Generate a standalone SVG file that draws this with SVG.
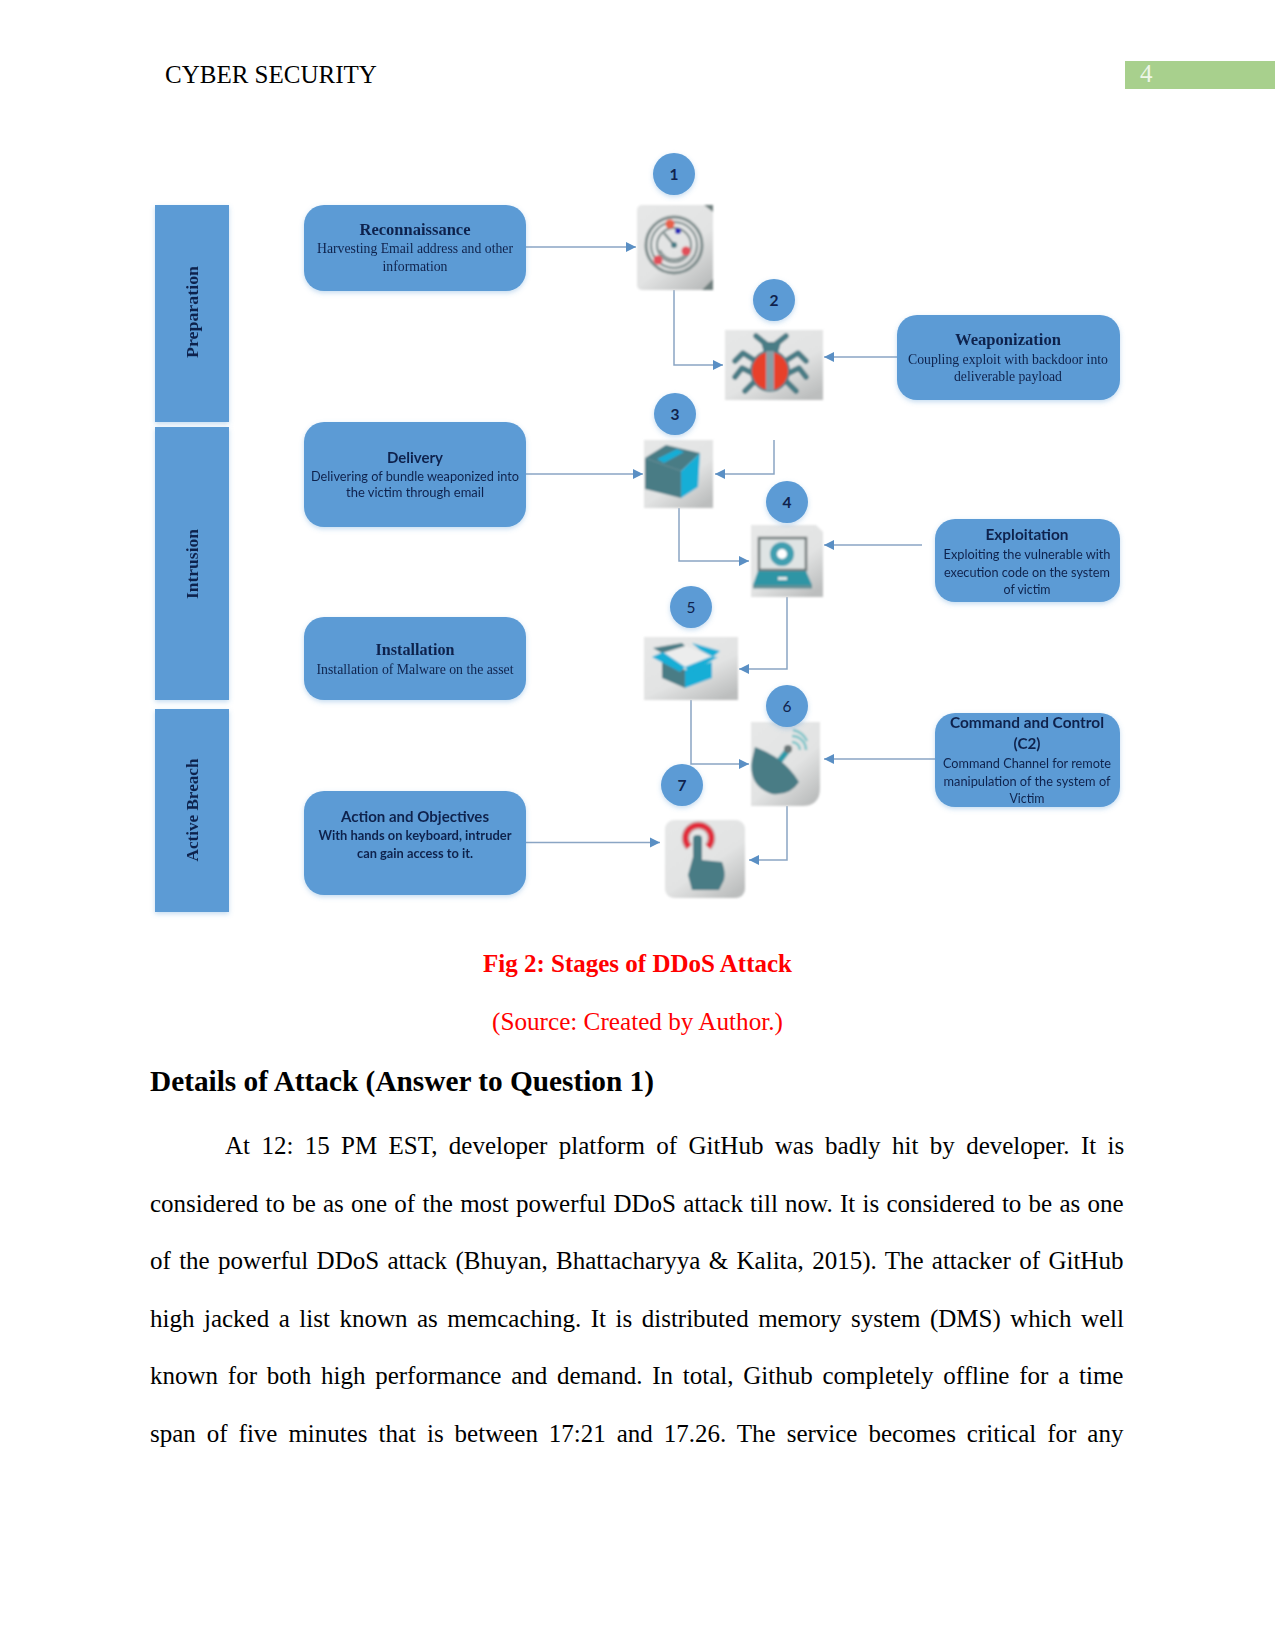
<svg xmlns="http://www.w3.org/2000/svg" width="1275" height="1651" viewBox="0 0 1275 1651">
<style>
.page{font-family:"Liberation Serif","Times New Roman",serif;font-size:25px;fill:#000}
.cap{text-anchor:middle;fill:#f00}
.b{font-weight:700}
.t{font-family:"Liberation Serif",serif;fill:#10234d;text-anchor:middle}
.tb{font-size:16.5px;font-weight:700}
.ts{font-size:13.7px}
.c{font-family:Lato,"Open Sans",sans-serif;fill:#10234d;text-anchor:middle}
.cb{font-size:15.5px;font-weight:700}
.cs{font-size:12.5px}
.band{fill:#5b9bd5}
.box{fill:#5b9bd5}
.n{fill:#5b9bd5}
.num{font-family:Lato,"Open Sans",sans-serif;font-size:15.5px;fill:#10234d;text-anchor:middle}
.lab{font-family:"Liberation Serif",serif;font-weight:700;font-size:17.5px;fill:#10234d;text-anchor:middle}
.ln{fill:none;stroke:#8aa5c4;stroke-width:1.5;marker-end:url(#ah)}
.teal{fill:#4a7b85}
.cy{fill:#17aed6}
</style>
<defs>
<marker id="ah" markerUnits="userSpaceOnUse" markerWidth="11" markerHeight="12" refX="10" refY="6" orient="auto"><path d="M0 1L10 6L0 11Z" fill="#5a8fc4"/></marker>
<linearGradient id="ig" x1="0.1" y1="0" x2="0.8" y2="1"><stop offset="0" stop-color="#e6e7e7"/><stop offset="0.6" stop-color="#e2e3e3"/><stop offset="1" stop-color="#bcbebe"/></linearGradient>
<filter id="sh" x="-10%" y="-10%" width="120%" height="125%"><feDropShadow dx="0" dy="2" stdDeviation="2.5" flood-color="#5b9bd5" flood-opacity="0.35"/></filter>
<filter id="soft" x="-5%" y="-5%" width="110%" height="110%"><feGaussianBlur stdDeviation="0.8"/></filter>
<filter id="txt" x="-5%" y="-20%" width="110%" height="140%"><feGaussianBlur stdDeviation="0.35"/></filter>
</defs>

<g id="header">
<text class="page" x="165" y="83">CYBER SECURITY</text>
<rect x="1125" y="61" width="150" height="28" fill="#a8d08d"/>
<text x="1140" y="82" font-family="Liberation Serif,serif" font-size="25" fill="#eef6e8">4</text>
</g>

<g id="connectors">
<path class="ln" d="M526 247H636"/>
<path class="ln" d="M674 290V365H723"/>
<path class="ln" d="M897 357H824"/>
<path class="ln" d="M774 440V474H715"/>
<path class="ln" d="M526 474H643"/>
<path class="ln" d="M679 508V561H749"/>
<path class="ln" d="M922 545H824"/>
<path class="ln" d="M787 597V669H739"/>
<path class="ln" d="M691 700V764H749"/>
<path class="ln" d="M935 759H824"/>
<path class="ln" d="M787 806V860H749"/>
<path class="ln" d="M526 842.500H660"/>
</g>

<g id="band-preparation"><rect class="band" x="155" y="205" width="74" height="217" filter="url(#sh)"/><text class="lab" transform="translate(198 312) rotate(-90)" textLength="92" lengthAdjust="spacingAndGlyphs" filter="url(#txt)">Preparation</text></g>
<g id="band-intrusion"><rect class="band" x="155" y="427" width="74" height="273" filter="url(#sh)"/><text class="lab" transform="translate(198 564) rotate(-90)" textLength="70" lengthAdjust="spacingAndGlyphs" filter="url(#txt)">Intrusion</text></g>
<g id="band-active-breach"><rect class="band" x="155" y="709" width="74" height="203" filter="url(#sh)"/><text class="lab" transform="translate(198 810) rotate(-90)" textLength="103" lengthAdjust="spacingAndGlyphs" filter="url(#txt)">Active Breach</text></g>

<g id="node-reconnaissance"><rect class="box" x="304" y="205" width="222" height="86" rx="20" filter="url(#sh)"/>
<g filter="url(#txt)"><text class="t tb" x="415" y="235" textLength="111" lengthAdjust="spacingAndGlyphs">Reconnaissance</text>
<text class="t ts" x="415" y="253" textLength="196" lengthAdjust="spacingAndGlyphs">Harvesting Email address and other</text>
<text class="t ts" x="415" y="271" textLength="65" lengthAdjust="spacingAndGlyphs">information</text></g></g>

<g id="node-delivery"><rect class="box" x="304" y="422" width="222" height="105" rx="20" filter="url(#sh)"/>
<g filter="url(#txt)"><text class="c cb" x="415" y="463" textLength="56" lengthAdjust="spacingAndGlyphs">Delivery</text>
<text class="c cs" x="415" y="481" textLength="208" lengthAdjust="spacingAndGlyphs">Delivering of bundle weaponized into</text>
<text class="c cs" x="415" y="497" textLength="138" lengthAdjust="spacingAndGlyphs">the victim through email</text></g></g>

<g id="node-installation"><rect class="box" x="304" y="617" width="222" height="83" rx="20" filter="url(#sh)"/>
<g filter="url(#txt)"><text class="t tb" x="415" y="655" textLength="79" lengthAdjust="spacingAndGlyphs">Installation</text>
<text class="t ts" x="415" y="674" textLength="197" lengthAdjust="spacingAndGlyphs">Installation of Malware on the asset</text></g></g>

<g id="node-action"><rect class="box" x="304" y="791" width="222" height="104" rx="20" filter="url(#sh)"/>
<g filter="url(#txt)"><text class="c cb" x="415" y="822" textLength="148" lengthAdjust="spacingAndGlyphs">Action and Objectives</text>
<text class="c cs b" x="415" y="840" textLength="193" lengthAdjust="spacingAndGlyphs">With hands on keyboard, intruder</text>
<text class="c cs b" x="415" y="858" textLength="116" lengthAdjust="spacingAndGlyphs">can gain access to it.</text></g></g>

<g id="node-weaponization"><rect class="box" x="897" y="315" width="223" height="85" rx="20" filter="url(#sh)"/>
<g filter="url(#txt)"><text class="t tb" x="1008" y="345" textLength="106" lengthAdjust="spacingAndGlyphs">Weaponization</text>
<text class="t ts" x="1008" y="364" textLength="200" lengthAdjust="spacingAndGlyphs">Coupling exploit with backdoor into</text>
<text class="t ts" x="1008" y="381" textLength="108" lengthAdjust="spacingAndGlyphs">deliverable payload</text></g></g>

<g id="node-exploitation"><rect class="box" x="935" y="519" width="185" height="83" rx="20" filter="url(#sh)"/>
<g filter="url(#txt)"><text class="c cb" x="1027" y="540" textLength="83" lengthAdjust="spacingAndGlyphs">Exploitation</text>
<text class="c cs" x="1027" y="559" textLength="167" lengthAdjust="spacingAndGlyphs">Exploiting the vulnerable with</text>
<text class="c cs" x="1027" y="577" textLength="166" lengthAdjust="spacingAndGlyphs">execution code on the system</text>
<text class="c cs" x="1027" y="594" textLength="47" lengthAdjust="spacingAndGlyphs">of victim</text></g></g>

<g id="node-c2"><rect class="box" x="935" y="713" width="185" height="94" rx="20" filter="url(#sh)"/>
<g filter="url(#txt)"><text class="c cb" x="1027" y="728" textLength="154" lengthAdjust="spacingAndGlyphs">Command and Control</text>
<text class="c cb" x="1027" y="749" textLength="27" lengthAdjust="spacingAndGlyphs">(C2)</text>
<text class="c cs" x="1027" y="768" textLength="168" lengthAdjust="spacingAndGlyphs">Command Channel for remote</text>
<text class="c cs" x="1027" y="786" textLength="167" lengthAdjust="spacingAndGlyphs">manipulation of the system of</text>
<text class="c cs" x="1027" y="803" textLength="35" lengthAdjust="spacingAndGlyphs">Victim</text></g></g>

<g id="icon-radar" filter="url(#soft)"><rect x="637" y="205" width="76" height="85" rx="5" fill="url(#ig)"/>
<path d="M704 205H713V212ZM713 279V290H702Z" fill="#6f7f7e"/>
<g fill="none" stroke="#7d8c8c"><circle cx="674" cy="245" r="28" stroke-width="3"/><circle cx="674" cy="245" r="23" stroke-width="2"/><circle cx="674" cy="245" r="17" stroke-width="2"/><path d="M660 250A15 15 0 0 0 688 250" stroke-width="2"/></g>
<path d="M674 245L664 233" stroke="#7d8c8c" stroke-width="2.500"/><circle cx="674" cy="245" r="3" class="teal"/>
<circle cx="670" cy="224" r="4.500" fill="#e8604a"/><circle cx="678" cy="231" r="3" fill="#2a2ab8"/><circle cx="686" cy="251" r="4.500" fill="#e2505a"/><circle cx="658" cy="260" r="4.500" fill="#e2505a"/></g>

<g id="icon-bug" filter="url(#soft)"><rect x="725" y="330" width="98" height="70" fill="url(#ig)"/>
<g fill="none" stroke="#4a7b85" stroke-width="5.500" stroke-linecap="round" stroke-linejoin="round"><path d="M756 336L766 344M786 336L776 344"/><path d="M754 360L743 353L735 361"/><path d="M752 373L742 368L735 377"/><path d="M754 382L745 391"/><path d="M787 360L798 353L806 361"/><path d="M789 373L799 368L806 377"/><path d="M787 382L796 391"/></g>
<path class="teal" d="M761 342H781L778 353H764Z"/>
<ellipse cx="770" cy="371" rx="19" ry="20" fill="#e8402a" stroke="#4a7b85" stroke-width="2"/><rect x="766" y="351" width="8" height="40" fill="#8a9ea5"/></g>

<g id="icon-box" filter="url(#soft)"><rect x="644" y="440" width="69" height="68" fill="url(#ig)"/>
<path class="teal" d="M645 458L681 471V498L645 489Z"/><path class="cy" d="M681 471L700 453L698 487L681 498Z"/><path class="teal" d="M645 458L666 445L700 453L681 471Z"/><path class="cy" d="M657 459L677 449L684 452L664 463Z"/></g>

<g id="icon-laptop" filter="url(#soft)"><path d="M751 525H816L823 532V597H751Z" fill="url(#ig)"/>
<rect x="759" y="538" width="47" height="32" fill="#dfe4e4" stroke="#70797a" stroke-width="2.500"/>
<circle cx="782" cy="554" r="8.500" fill="#fff" stroke="#3f9fb0" stroke-width="7"/>
<path d="M758 571H806L812 585H753Z" fill="#2f95a5"/><rect x="753" y="585" width="59" height="3.500" fill="#5f8f96"/><rect x="778" y="577" width="9" height="3" fill="#dfe9e9"/></g>

<g id="icon-openbox" filter="url(#soft)"><rect x="644" y="637" width="94" height="63" fill="url(#ig)"/>
<path d="M663 655L686 646L712 657L686 668Z" fill="#eceded"/>
<path class="teal" d="M662 660L685 670V688L662 678Z"/><path class="cy" d="M685 670L712 662V678L685 688Z"/>
<path class="teal" d="M653 648L682 643L685 646L662 653Z"/>
<path class="cy" d="M692 643L720 651L713 657L700 650Z"/>
<path class="cy" d="M652 657L663 652L685 667L680 672Z"/>
<path class="cy" d="M685 667L710 657L718 657L690 673Z"/></g>

<g id="icon-dish" filter="url(#soft)"><path d="M751 722H820V788Q820 806 802 806H751Z" fill="url(#ig)"/>
<path d="M777 764L788 750" stroke="#2c9aa8" stroke-width="6"/><circle cx="788" cy="749" r="4" fill="#6b7778"/>
<path class="teal" d="M755 747Q785 758 799 782Q790 796 772 794Q748 786 752 760Z"/>
<g fill="none" stroke="#7cc4c8" stroke-width="2.500"><path d="M792 742A8 8 0 0 1 800 750"/><path d="M792 736A14 14 0 0 1 806 750"/><path d="M793 730A20 20 0 0 1 807 741"/></g></g>

<g id="icon-hand" filter="url(#soft)"><rect x="665" y="820" width="80" height="78" rx="9" fill="url(#ig)"/>
<path d="M689 847A13 13 0 1 1 708 847" fill="none" stroke="#c8a0a4" stroke-width="8"/>
<path d="M689 847A13 13 0 1 1 708 847" fill="none" stroke="#e22c3a" stroke-width="5"/>
<rect x="693" y="835" width="9" height="30" rx="4" class="teal"/>
<path class="teal" d="M693 857L702 860L722 862Q726 872 724 880L719 890H692L688 875Z"/></g>

<g id="step-1"><circle class="n" cx="674" cy="174" r="21" filter="url(#sh)"/><text class="num b" x="674" y="180">1</text></g>
<g id="step-2"><circle class="n" cx="774" cy="300" r="21" filter="url(#sh)"/><text class="num b" x="774" y="306">2</text></g>
<g id="step-3"><circle class="n" cx="675" cy="414" r="21" filter="url(#sh)"/><text class="num b" x="675" y="420">3</text></g>
<g id="step-4"><circle class="n" cx="787" cy="502" r="21" filter="url(#sh)"/><text class="num b" x="787" y="508">4</text></g>
<g id="step-5"><circle class="n" cx="691" cy="607" r="21" filter="url(#sh)"/><text class="num" x="691" y="613">5</text></g>
<g id="step-6"><circle class="n" cx="787" cy="706" r="21" filter="url(#sh)"/><text class="num" x="787" y="712">6</text></g>
<g id="step-7"><circle class="n" cx="682" cy="785" r="21" filter="url(#sh)"/><text class="num b" x="682" y="791">7</text></g>

<g id="body">
<text class="page cap b" x="637.500" y="972">Fig 2: Stages of DDoS Attack</text>
<text class="page cap" x="637.500" y="1030" style="font-size:25.200px">(Source: Created by Author.)</text>
<text class="page b" x="150" y="1091" style="font-size:29.300px">Details of Attack (Answer to Question 1)</text>
<text class="page" x="225" y="1154" word-spacing="5.130">At 12: 15 PM EST, developer platform of GitHub was badly hit by developer. It is</text>
<text class="page" x="150" y="1212" word-spacing="0.970">considered to be as one of the most powerful DDoS attack till now. It is considered to be as one</text>
<text class="page" x="150" y="1269" word-spacing="2.070">of the powerful DDoS attack (Bhuyan, Bhattacharyya &amp; Kalita, 2015). The attacker of GitHub</text>
<text class="page" x="150" y="1327" word-spacing="3.260">high jacked a list known as memcaching. It is distributed memory system (DMS) which well</text>
<text class="page" x="150" y="1384" word-spacing="3.510">known for both high performance and demand. In total, Github completely offline for a time</text>
<text class="page" x="150" y="1442" word-spacing="4.710">span of five minutes that is between 17:21 and 17.26. The service becomes critical for any</text>
</g>
</svg>
